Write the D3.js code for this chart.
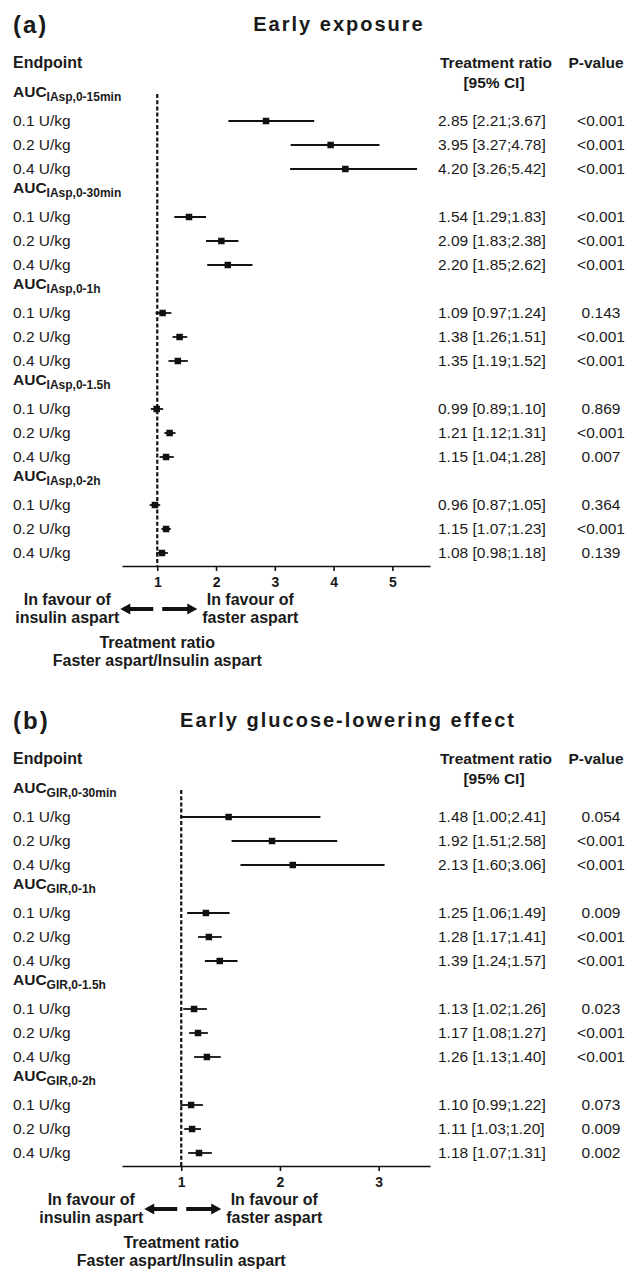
<!DOCTYPE html>
<html>
<head>
<meta charset="utf-8">
<script src="https://cdn.jsdelivr.net/npm/d3@7"></script>
<style>
  body { margin: 0; background: #fff; }
  text { font-family: "Liberation Sans", Arial, sans-serif; fill: #1a1a1a; }
</style>
</head>
<body>
<script>
'use strict'

// shared row labels
const doses = ['0.1 U/kg', '0.2 U/kg', '0.4 U/kg']

// panel (a) early exposure
const groupsA = ['IAsp,0-15min', 'IAsp,0-30min', 'IAsp,0-1h', 'IAsp,0-1.5h', 'IAsp,0-2h']
const estA = [2.85, 3.95, 4.20, 1.54, 2.09, 2.20, 1.09, 1.38, 1.35, 0.99, 1.21, 1.15, 0.96, 1.15, 1.08]
const lowA = [2.21, 3.27, 3.26, 1.29, 1.83, 1.85, 0.97, 1.26, 1.19, 0.89, 1.12, 1.04, 0.87, 1.07, 0.98]
const highA = [3.67, 4.78, 5.42, 1.83, 2.38, 2.62, 1.24, 1.51, 1.52, 1.10, 1.31, 1.28, 1.05, 1.23, 1.18]
const pA = ['<0.001', '<0.001', '<0.001', '<0.001', '<0.001', '<0.001', '0.143', '<0.001', '<0.001',
  '0.869', '<0.001', '0.007', '0.364', '<0.001', '0.139']
const ticksA = [1, 2, 3, 4, 5]

// panel (b) early glucose-lowering effect
const groupsB = ['GIR,0-30min', 'GIR,0-1h', 'GIR,0-1.5h', 'GIR,0-2h']
const estB = [1.48, 1.92, 2.13, 1.25, 1.28, 1.39, 1.13, 1.17, 1.26, 1.10, 1.11, 1.18]
const lowB = [1.00, 1.51, 1.60, 1.06, 1.17, 1.24, 1.02, 1.08, 1.13, 0.99, 1.03, 1.07]
const highB = [2.41, 2.58, 3.06, 1.49, 1.41, 1.57, 1.26, 1.27, 1.40, 1.22, 1.20, 1.31]
const pB = ['0.054', '<0.001', '<0.001', '0.009', '<0.001', '<0.001', '0.023', '<0.001', '<0.001',
  '0.073', '0.009', '0.002']
const ticksB = [1, 2, 3]

const width = 644
const height = 1271
const rowH = 24
const ink = '#111'
const f2 = d3.format('.2f')

const svg = d3.select('body')
  .append('svg')
  .attr('width', width)
  .attr('height', height)

function panel (opt) {
  const g = svg.append('g').attr('transform', `translate(0,${opt.top})`)

  // build rows: one header per group, then the three doses
  const rows = []
  opt.groups.forEach((grp, gi) => {
    rows.push({ header: true, label: grp })
    doses.forEach((d, di) => {
      const k = gi * 3 + di
      rows.push({ header: false, label: d, est: opt.est[k], lo: opt.lo[k], hi: opt.hi[k], p: opt.p[k] })
    })
  })

  const y = d3.scaleLinear().domain([0, 1]).range([97, 97 + rowH])
  const x = d3.scaleLinear().domain(opt.domain).range([122, 430])
  const axisY = y(rows.length - 1) + 13

  g.append('text')
    .attr('x', 13).attr('y', 33)
    .attr('font-size', 24).attr('font-weight', 'bold')
    .attr('letter-spacing', 2)
    .text(opt.letter)

  g.append('text')
    .attr('x', opt.titleX).attr('y', 31)
    .attr('text-anchor', 'middle')
    .attr('font-size', 20).attr('font-weight', 'bold')
    .attr('letter-spacing', 2)
    .text(opt.title)

  const head = g.append('g').attr('font-size', 15.5).attr('font-weight', 'bold')
  head.append('text').attr('x', 13).attr('y', 68).attr('font-size', 16).text('Endpoint')
  head.append('text').attr('x', 496).attr('y', 68).attr('text-anchor', 'middle').text('Treatment ratio')
  head.append('text').attr('x', 494).attr('y', 88).attr('text-anchor', 'middle').text('[95% CI]')
  head.append('text').attr('x', 596).attr('y', 68).attr('text-anchor', 'middle').text('P-value')

  // group headers with subscripts
  const hdr = g.selectAll('.hdr')
    .data(rows.map((r, i) => ({ r, i })).filter(d => d.r.header))
    .enter()
    .append('text')
    .attr('class', 'hdr')
    .attr('x', 13)
    .attr('y', d => y(d.i))
    .attr('font-weight', 'bold')
    .attr('font-size', 15.5)
  hdr.append('tspan').text('AUC')
  hdr.append('tspan').attr('font-size', 12).attr('dy', 4).text(d => d.r.label)

  const data = rows.map((r, i) => ({ r, i })).filter(d => !d.r.header)

  g.selectAll('.dose')
    .data(data)
    .enter()
    .append('text')
    .attr('x', 13)
    .attr('y', d => y(d.i) + 4.5)
    .attr('font-size', 15.5)
    .text(d => d.r.label)

  g.selectAll('.ci-text')
    .data(data)
    .enter()
    .append('text')
    .attr('x', 438)
    .attr('y', d => y(d.i) + 4.5)
    .attr('font-size', 15.5)
    .text(d => `${f2(d.r.est)} [${f2(d.r.lo)};${f2(d.r.hi)}]`)

  g.selectAll('.p-text')
    .data(data)
    .enter()
    .append('text')
    .attr('x', 601)
    .attr('y', d => y(d.i) + 4.5)
    .attr('text-anchor', 'middle')
    .attr('font-size', 15.5)
    .text(d => d.r.p)

  // reference line at ratio 1
  g.append('line')
    .attr('x1', x(1)).attr('x2', x(1))
    .attr('y1', y(0) - 3).attr('y2', axisY)
    .attr('stroke', ink)
    .attr('stroke-width', 2.2)
    .attr('stroke-dasharray', '4,2.2')

  g.selectAll('.ci')
    .data(data)
    .enter()
    .append('line')
    .attr('x1', d => x(d.r.lo))
    .attr('x2', d => x(d.r.hi))
    .attr('y1', d => y(d.i))
    .attr('y2', d => y(d.i))
    .attr('stroke', ink)
    .attr('stroke-width', 1.8)

  const ms = 6.5
  g.selectAll('.pt')
    .data(data)
    .enter()
    .append('rect')
    .attr('x', d => x(d.r.est) - ms / 2)
    .attr('y', d => y(d.i) - ms / 2)
    .attr('width', ms)
    .attr('height', ms)
    .attr('fill', ink)

  const axis = g.append('g')
    .attr('transform', `translate(0,${axisY})`)
    .call(d3.axisBottom(x).tickValues(opt.ticks).tickFormat(d3.format('d'))
      .tickSize(5).tickSizeOuter(0).tickPadding(6))
  axis.selectAll('path, line').attr('stroke', ink).attr('stroke-width', 1.6)
  axis.selectAll('text')
    .attr('font-family', '"Liberation Sans", Arial, sans-serif')
    .attr('font-size', 14)
    .attr('font-weight', 'bold')
    .attr('fill', '#1a1a1a')

  // direction arrows and labels
  const ref = x(1)
  const ay = axisY + 43
  const arrow = (tail, tip) => {
    const s = Math.sign(tip - tail)
    const neck = tip - s * 10
    return `M${tail},${ay - 2}L${neck},${ay - 2}L${neck},${ay - 5.5}L${tip},${ay}` +
      `L${neck},${ay + 5.5}L${neck},${ay + 2}L${tail},${ay + 2}Z`
  }
  g.append('path').attr('d', arrow(ref - 4, ref - 37)).attr('fill', ink)
  g.append('path').attr('d', arrow(ref + 5, ref + 40)).attr('fill', ink)

  const lab = g.append('g').attr('font-size', 16).attr('font-weight', 'bold').attr('text-anchor', 'middle')
  lab.append('text').attr('x', ref - 90).attr('y', axisY + 39).text('In favour of')
  lab.append('text').attr('x', ref - 90).attr('y', axisY + 57).text('insulin aspart')
  lab.append('text').attr('x', ref + 93).attr('y', axisY + 39).text('In favour of')
  lab.append('text').attr('x', ref + 93).attr('y', axisY + 57).text('faster aspart')
  lab.append('text').attr('x', ref).attr('y', axisY + 82).text('Treatment ratio')
  lab.append('text').attr('x', ref).attr('y', axisY + 100).text('Faster aspart/Insulin aspart')
}

panel({
  top: 0, letter: '(a)', title: 'Early exposure', titleX: 339,
  groups: groupsA, est: estA, lo: lowA, hi: highA, p: pA,
  domain: [0.4, 5.64], ticks: ticksA
})

panel({
  top: 696, letter: '(b)', title: 'Early glucose-lowering effect', titleX: 348,
  groups: groupsB, est: estB, lo: lowB, hi: highB, p: pB,
  domain: [0.4, 3.52], ticks: ticksB
})
</script>
</body>
</html>
